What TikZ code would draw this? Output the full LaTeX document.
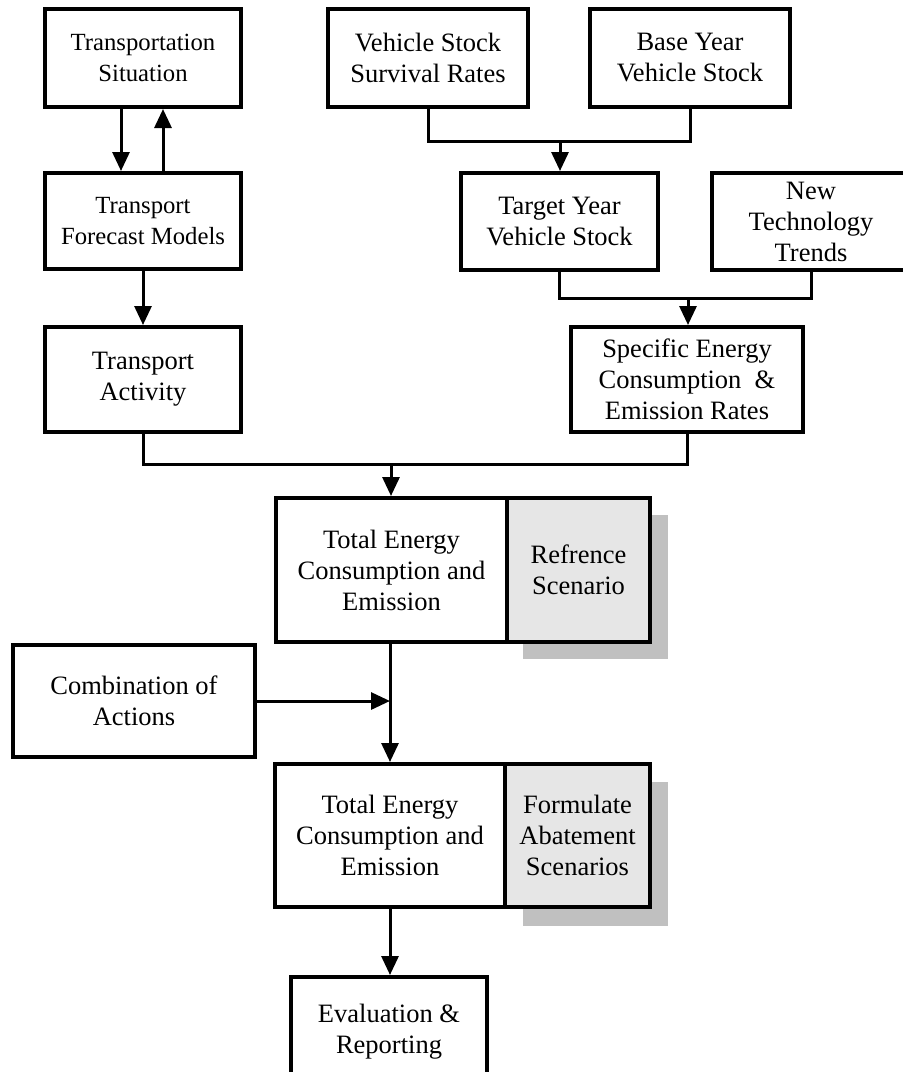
\documentclass[tikz,border=0pt]{standalone}
\usepackage{fontspec}
\setmainfont{Liberation Serif}
\usetikzlibrary{arrows.meta}
\begin{document}
\begin{tikzpicture}[x=1pt,y=-1pt,
  box/.style={draw, line width=4pt, fill=white, inner sep=0pt, align=center,
    font=\fontsize{26.5}{31}\selectfont},
  smallbox/.style={box, font=\fontsize{24.7}{30.5}\selectfont},
  graybox/.style={box, fill=boxgray},
  shade/.style={fill=shadegray},
  conn/.style={line width=3pt, line join=miter},
  arr/.style={conn, -{Triangle[length=19pt 0 0,width=17pt 0]}}]
\definecolor{boxgray}{HTML}{E6E6E6}
\definecolor{shadegray}{HTML}{C0C0C0}
\useasboundingbox (0,0) rectangle (903,1072);
\clip (0,0) rectangle (903,1072);

% left column
\node[smallbox, minimum width=196, minimum height=98] (ts) at (143,58) {Transportation\\Situation};
\node[smallbox, minimum width=196, minimum height=96] (tfm) at (143,221) {Transport\\Forecast Models};
\node[box, minimum width=196, minimum height=105] (ta) at (143,379.5) {Transport\\Activity};

% vehicle stock column
\node[box, minimum width=200, minimum height=98] (vs) at (428,58) {Vehicle Stock\\Survival Rates};
\node[box, minimum width=200, minimum height=98] (by) at (690,58) {Base Year\\Vehicle Stock};
\node[box, minimum width=197, minimum height=97] (ty) at (559.5,221.5) {Target Year\\Vehicle Stock};
\node[box, minimum width=198, minimum height=97] (nt) at (811,221.5) {New\\Technology\\Trends};
\node[box, minimum width=232, minimum height=105] (se) at (687,379.5) {Specific Energy\\Consumption\ \ \&\\Emission Rates};

% reference scenario block
\fill[shade] (523,515) rectangle (668,659);
\node[box, minimum width=231, minimum height=144] (tot1) at (391.5,570) {Total Energy\\Consumption and\\Emission};
\node[graybox, minimum width=143, minimum height=144] (ref) at (578.5,570) {Refrence\\Scenario};

% actions and abatement block
\node[box, minimum width=242, minimum height=112] (comb) at (134,701) {Combination of\\Actions};
\fill[shade] (523,782) rectangle (668,926);
\node[box, minimum width=230, minimum height=143] (tot2) at (390,835.5) {Total Energy\\Consumption and\\Emission};
\node[graybox, minimum width=145, minimum height=143] (abate) at (577.5,835.5) {Formulate\\Abatement\\Scenarios};

\node[box, minimum width=196, minimum height=110] (ev) at (389,1032) {Evaluation \&\\Reporting};

% junction points
\coordinate (j1) at (560,141);
\coordinate (j2) at (688,298);
\coordinate (j3) at (391,464);
\coordinate (j4) at (390,701);

% connectors
\draw[arr] (ts.south -| 121,0) -- (tfm.north -| 121,0);
\draw[arr] (tfm.north -| 163,0) -- (ts.south -| 163,0);
\draw[arr] (tfm.south) -- (ta.north);

\draw[conn] (vs.south) |- (j1) -| (by.south);
\draw[arr] (j1) -- (j1 |- ty.north);

\draw[conn] (ty.south) |- (j2) -| (nt.south);
\draw[arr] (j2) -- (j2 |- se.north);

\draw[conn] (ta.south) |- (j3) -| (se.south);
\draw[arr] (j3) -- (j3 |- tot1.north);

\draw[arr] (tot1.south -| j4) -- (tot2.north -| j4);
\draw[arr] (comb.east) -- (j4);
\draw[arr] (tot2.south -| j4) -- (ev.north -| j4);
\end{tikzpicture}
\end{document}
